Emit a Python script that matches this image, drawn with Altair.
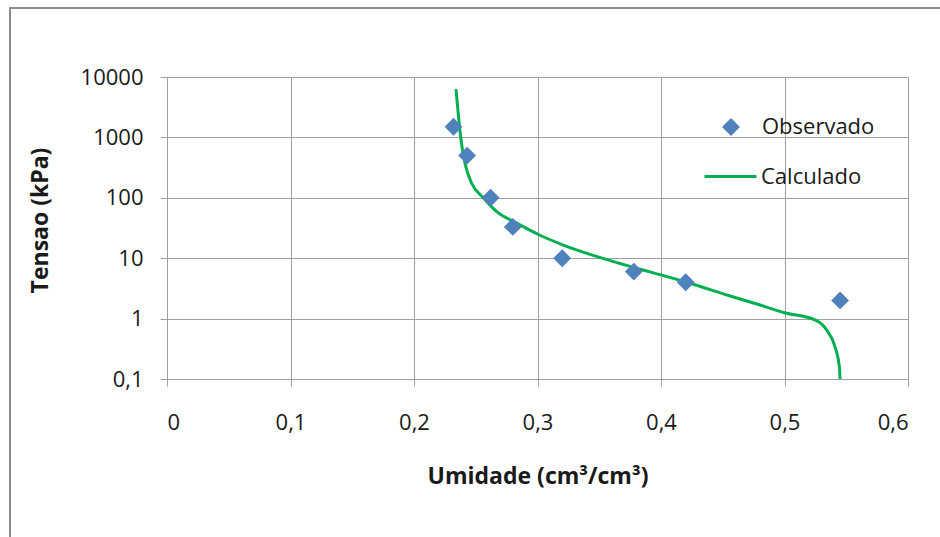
import altair as alt
import pandas as pd

# Observed soil water retention points: moisture (cm3/cm3) vs tension (kPa)
obs_theta = [0.232, 0.243, 0.262, 0.280, 0.320, 0.378, 0.420, 0.545]
obs_tension = [1500, 500, 100, 33, 10, 6, 4, 2]

# Fitted retention curve, traced point by point
calc_theta = [0.2340, 0.2358, 0.2378, 0.2413, 0.2467, 0.2561, 0.2670, 0.2832,
              0.3020, 0.3209, 0.3510, 0.3803, 0.4000, 0.4235, 0.4559, 0.4802,
              0.5000, 0.5247, 0.5341, 0.5409, 0.5444, 0.5450]
calc_tension = [6300, 2500, 1000, 372, 174, 100, 59, 38,
                24, 16.5, 10.2, 6.8, 5.3, 3.84, 2.37, 1.68,
                1.25, 0.95, 0.65, 0.34, 0.16, 0.1]

x_ticks = [0, 0.1, 0.2, 0.3, 0.4, 0.5, 0.6]
y_ticks = [0.1, 1, 10, 100, 1000, 10000]

FONT = "Open Sans"
GRID = "#a0a0a0"
TEXT = "#1a1a1a"

obs = pd.DataFrame({"theta": obs_theta, "tension": obs_tension, "serie": "Observado"})
calc = pd.DataFrame({"theta": calc_theta, "tension": calc_tension, "serie": "Calculado"})

x_enc = alt.X(
    "theta:Q",
    scale=alt.Scale(domain=[0, 0.6], nice=False, zero=False),
    axis=alt.Axis(
        values=x_ticks,
        labelExpr="datum.value == 0 ? '0' : replace(format(datum.value, '.1f'), '.', ',')",
        title="Umidade (cm³/cm³)",
        titleBaseline="middle",
        titleY=97,
        labelBaseline="middle",
        labelPadding=36,
    ),
)
y_enc = alt.Y(
    "tension:Q",
    scale=alt.Scale(type="log", domain=[0.1, 10000], nice=False),
    axis=alt.Axis(
        values=y_ticks,
        labelExpr="replace(format(datum.value, '~g'), '.', ',')",
        title="Tensao (kPa)",
        titleBaseline="middle",
        titleX=-127,
        titleY=143,
        labelPadding=17,
    ),
)

legend_common = dict(
    orient="none",
    title=None,
    padding=0,
    labelFont=FONT,
    labelFontSize=22,
    labelColor=TEXT,
)

points = alt.Chart(obs).mark_point(
    shape="diamond", filled=True, size=320, opacity=1
).encode(
    x=x_enc,
    y=y_enc,
    color=alt.Color(
        "serie:N",
        scale=alt.Scale(domain=["Observado"], range=["#4f81bd"]),
        legend=alt.Legend(
            legendX=553, legendY=39, symbolType="diamond", symbolSize=320,
            symbolOpacity=1, labelOffset=20, **legend_common
        ),
    ),
)

curve = alt.Chart(calc).mark_line(
    strokeWidth=3, interpolate="monotone"
).encode(
    x=x_enc,
    y=y_enc,
    order="theta:Q",
    color=alt.Color(
        "serie:N",
        scale=alt.Scale(domain=["Calculado"], range=["#00b050"]),
        legend=alt.Legend(
            legendX=536, legendY=72, symbolType="stroke", symbolSize=2704,
            symbolStrokeWidth=3, labelOffset=3, **legend_common
        ),
    ),
)

# Outer chart frame
frame = alt.Chart(pd.DataFrame({"k": [0]})).mark_rect(
    fill="transparent", stroke="#8c8c8c", strokeWidth=2, clip=False
).encode(
    x=alt.value(-157), x2=alt.value(820),
    y=alt.value(-69), y2=alt.value(500),
)

chart = alt.layer(frame, curve, points).resolve_scale(
    color="independent"
).resolve_legend(color="independent").properties(
    width=741,
    height=302,
    padding={"left": 167, "top": 77, "right": 32, "bottom": 158},
    autosize=alt.AutoSizeParams(type="none"),
    background="white",
).configure_axis(
    grid=True,
    gridColor=GRID,
    gridWidth=1,
    domainColor=GRID,
    domainWidth=1,
    tickColor=GRID,
    tickSize=7,
    labelFont=FONT,
    labelFontSize=22,
    labelColor=TEXT,
    titleFont=FONT,
    titleFontSize=23,
    titleFontWeight="bold",
    titleColor=TEXT,
).configure_view(stroke=None)

chart.save("out.html", embed_options={"renderer": "svg", "actions": False})
